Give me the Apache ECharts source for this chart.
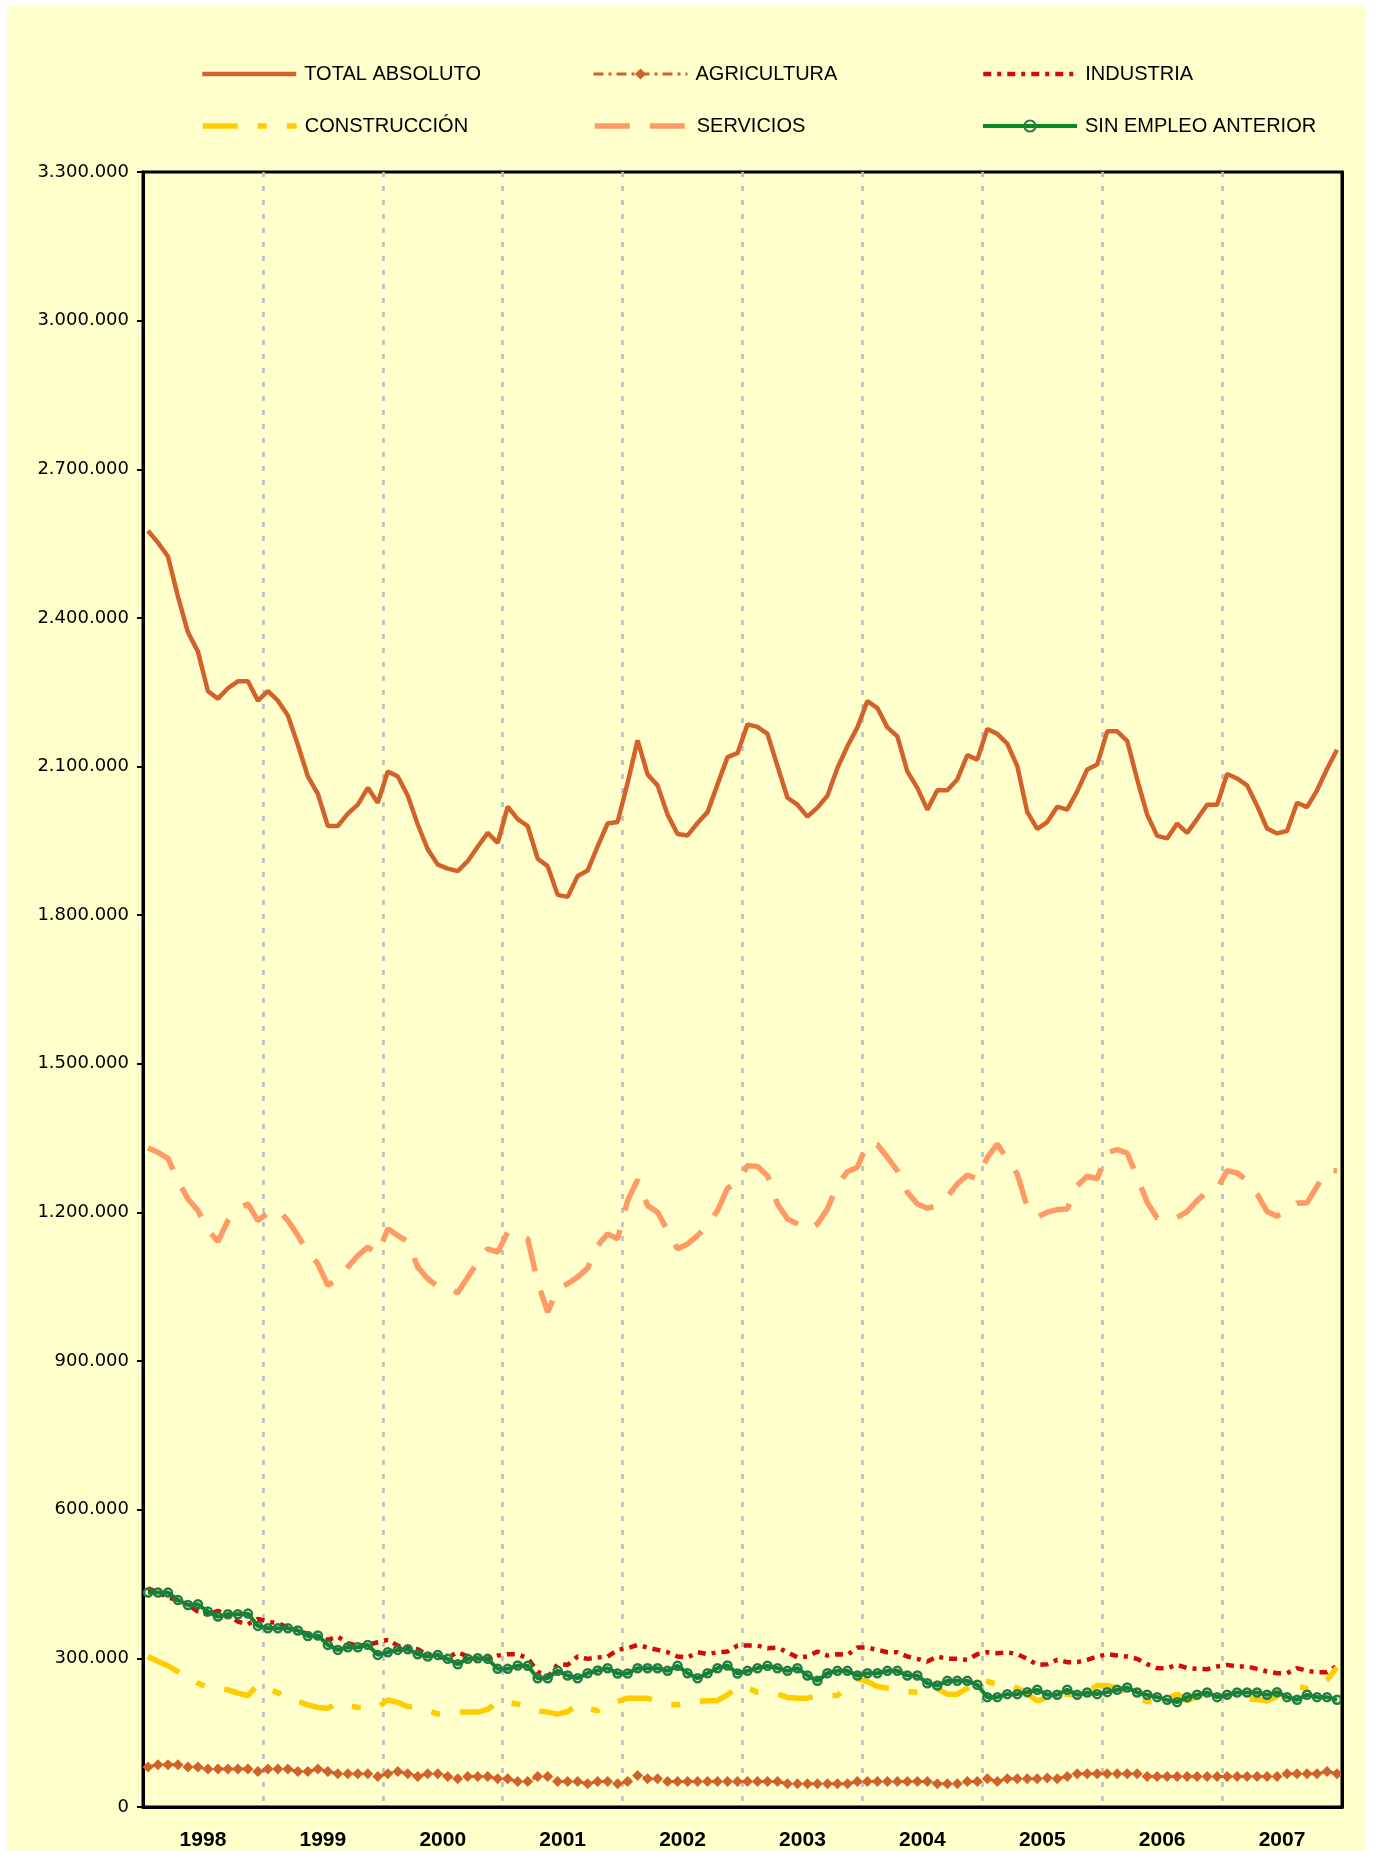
<!DOCTYPE html>
<html>
<head>
<meta charset="utf-8">
<script src="https://cdn.jsdelivr.net/npm/echarts@6/dist/echarts.min.js"></script>
<style>
  html, body { margin: 0; padding: 0; background: #ffffff; }
  #wrap { position: relative; width: 1375px; height: 1851px; overflow: hidden; }
  #bg { position: absolute; left: 7px; top: 5px; width: 1359px; height: 1846px; background: #FFFFCC; }
  #chart { position: absolute; left: 0; top: 0; width: 1375px; height: 1851px; }
</style>
</head>
<body>
<div id="wrap"><div id="bg"></div><div id="chart"></div></div>
<script>
// ---- DATA ----
const years = ['1998','1999','2000','2001','2002','2003','2004','2005','2006','2007'];
const monthNames = ['01','02','03','04','05','06','07','08','09','10','11','12'];
const seriesNames = ['TOTAL ABSOLUTO','AGRICULTURA','INDUSTRIA','CONSTRUCCIÓN','SERVICIOS','SIN EMPLEO ANTERIOR'];
const yTicks = { min: 0, max: 3300000, interval: 300000 };

const totalAbsoluto = [
  2576000,2552000,2524000,2443000,2371000,2332000,2252000,2237000,2258000,2272000,2272000,2233000,
  2252000,2233000,2203000,2144000,2080000,2045000,1980000,1980000,2005000,2023000,2057000,2027000,
  2090000,2080000,2041000,1983000,1933000,1902000,1894000,1889000,1909000,1938000,1966000,1946000,
  2019000,1994000,1980000,1914000,1899000,1841000,1837000,1879000,1890000,1939000,1985000,1988000,
  2067000,2153000,2084000,2062000,2003000,1964000,1961000,1986000,2008000,2064000,2119000,2127000,
  2185000,2180000,2166000,2101000,2037000,2023000,1999000,2017000,2041000,2097000,2141000,2179000,
  2232000,2218000,2179000,2161000,2090000,2057000,2013000,2052000,2052000,2074000,2123000,2114000,
  2176000,2166000,2146000,2101000,2008000,1974000,1988000,2019000,2013000,2050000,2094000,2104000,
  2171000,2171000,2152000,2074000,2003000,1960000,1955000,1985000,1966000,1994000,2023000,2023000,
  2085000,2076000,2062000,2021000,1975000,1965000,1970000,2027000,2018000,2052000,2095000,2134000
];
const agricultura = [
  80600,85300,85300,85300,80600,80600,76600,76600,76600,76600,76600,71900,
  76600,76600,76600,71900,71900,76600,71900,67200,67200,67200,67200,61800,
  67200,71900,67200,61800,67200,67200,61800,57100,61800,61800,61800,57100,
  57100,51700,51700,61800,61800,51700,51700,51700,47000,51700,51700,47000,
  51700,63800,57100,57100,51700,51700,51700,51700,51700,51700,51700,51700,
  51700,51700,51700,51700,47000,47000,47000,47000,47000,47000,47000,51700,
  51700,51700,51700,51700,51700,51700,51700,47000,47000,47000,51700,51700,
  57100,51700,57100,57100,57100,57100,58500,57100,61800,67200,67200,67200,
  67200,67200,67200,67200,61800,61800,61800,61800,61800,61800,61800,61800,
  61800,61800,61800,61800,61800,61800,67200,67200,67200,67200,71900,67200
];
const industria = [
  441400,433300,422600,417900,407800,394400,387700,395700,387700,374200,368800,379600,
  374200,370900,362100,357400,348700,344000,337300,344000,330500,325800,327200,332600,
  337300,325800,320500,318500,305700,301700,301700,312400,303700,299000,299000,305700,
  308400,308400,300300,273400,261400,288200,286900,303700,299000,301700,303700,317100,
  320500,327200,321800,317100,312400,303700,301700,312400,308400,312400,313700,325800,
  325800,325800,320500,321800,312400,301700,303700,313700,305700,308400,307000,321800,
  321800,317100,312400,312400,303700,299000,293600,303700,299000,299000,297000,308400,
  312400,310400,312400,308400,299000,286900,288200,297000,292300,292300,297000,303700,
  308400,305700,303700,299000,288200,280200,280200,286900,280200,278800,278100,283500,
  286900,283500,283500,278800,273400,270100,270100,280200,274800,272100,272100,284900
];
const construccion = [
  303700,293600,284900,273400,261400,249900,241200,238500,236500,229800,225100,246600,
  239900,230500,219700,213000,206300,200900,199500,209600,204900,200900,200900,200900,
  216300,210900,202900,200900,194200,187500,191500,191500,191500,191500,196900,213000,
  211600,207600,199500,194200,191500,187500,192800,206300,199500,194200,202200,213000,
  219700,219700,219700,213000,207600,206300,211600,213000,214300,215000,226400,243200,
  239900,231800,229800,227800,221100,219700,219700,224400,225100,225100,243200,258700,
  253300,243200,239900,238500,233100,231800,233100,238500,227800,227800,239900,256600,
  253300,247900,247900,239900,227800,214300,220000,225000,227800,226400,231800,245200,
  245200,239900,229800,218400,213000,213000,218400,227800,214300,223100,231800,225100,
  224400,221100,218400,217000,214300,223100,239900,245200,238500,242500,256600,281500
];
const servicios = [
  1330100,1321400,1309300,1264200,1227300,1203800,1165000,1141300,1183600,1207200,1217200,1183600,
  1199100,1205800,1183600,1153400,1119800,1096300,1052700,1066100,1089600,1113100,1129900,1116500,
  1166900,1153400,1141300,1089600,1066100,1050600,1049900,1037900,1069500,1099700,1126600,1119800,
  1160200,1152100,1147000,1059400,999000,1045900,1056000,1069500,1087600,1133200,1156800,1146700,
  1223900,1266200,1213800,1200500,1163400,1126600,1136600,1153400,1173500,1203800,1248900,1261000,
  1294400,1293000,1274300,1217200,1187000,1177000,1164800,1177000,1207200,1255500,1282300,1291200,
  1340200,1336800,1311300,1284300,1240800,1217200,1208600,1213800,1232000,1257600,1275700,1267600,
  1311300,1338100,1307900,1277700,1210600,1190500,1200500,1205800,1207200,1254100,1273000,1268000,
  1321400,1326800,1320000,1271000,1220600,1189000,1187000,1190000,1201800,1223900,1242100,1247500,
  1284300,1279700,1264200,1237400,1201800,1192500,1203800,1219300,1219300,1252900,1284300,1284300
];
const sinEmpleoAnterior = [
  432700,432700,432700,417900,407800,409100,394400,384300,389000,389000,390300,365500,
  360800,360800,360800,356100,345300,346000,327200,317100,322500,322500,327200,307000,
  312400,317100,318500,308400,303700,307000,299000,288200,299000,300300,299000,278800,
  278800,285500,284900,260000,260000,274800,265400,260000,270100,275500,280200,269400,
  269400,280200,280200,280200,274800,284900,270100,260000,270100,280200,285500,269400,
  274800,280200,284900,280200,274800,280200,265400,254600,270100,274800,274800,265400,
  270100,270100,274800,274800,265400,265400,249900,245200,254600,254600,254600,246600,
  221700,221700,227800,227800,231800,236500,226400,226400,236500,226400,231100,227800,
  231800,236500,241200,231100,226400,221700,216300,211600,221700,226400,231100,221700,
  226400,231100,231100,231100,226400,231800,221700,216300,226400,221700,221700,216300
];

// month categories built from years
const monthCategories = [];
years.forEach(y => monthNames.forEach(m => monthCategories.push(y + '-' + m)));

// ---- STYLES ----
const C_TOTAL = '#D3612B';
const C_AGRI = '#D3612B';
const C_IND = '#D20A0A';
const C_CONS = '#FFCC00';
const C_SERV = '#FF9966';
const C_SIN = '#0A8A1E';

const lineStyles = [
  { color: C_TOTAL, width: 4.5, type: 'solid' },
  { color: C_AGRI, width: 3, type: [10, 5, 3, 5] },
  { color: C_IND, width: 4.5, type: [8, 6, 4, 6] },
  { color: C_CONS, width: 5.5, type: [35, 20, 9, 20] },
  { color: C_SERV, width: 5.5, type: [35, 20] },
  { color: C_SIN, width: 4, type: 'solid' }
];
const hasSymbol = [false, true, false, false, false, true];

function fmt(v) {
  return String(v).replace(/\B(?=(\d{3})+(?!\d))/g, '.');
}

const chart = echarts.init(document.getElementById('chart'), null, { renderer: 'canvas' });

const legendPos = [
  { left: 195, top: 59 }, { left: 587, top: 59 }, { left: 976, top: 59 },
  { left: 195, top: 111 }, { left: 587, top: 111 }, { left: 976, top: 111 }
];

const legends = seriesNames.map((n, i) => {
  const lg = {
    orient: 'horizontal',
    itemWidth: 94,
    itemHeight: 14,
    selectedMode: false,
    left: legendPos[i].left,
    top: legendPos[i].top,
    data: [n],
    lineStyle: { color: lineStyles[i].color, width: lineStyles[i].width, type: lineStyles[i].type },
    textStyle: { fontFamily: 'Liberation Sans, Arial, sans-serif', fontSize: 20, color: '#000', padding: [0, 0, 0, 3] }
  };
  if (!hasSymbol[i]) lg.itemStyle = { opacity: 0 };
  return lg;
});

const option = {
  animation: false,
  backgroundColor: 'transparent',
  legend: legends,
  grid: {
    left: 143, right: 33, top: 172, bottom: 42,
    show: true, backgroundColor: '#FFFFCC', borderColor: '#000', borderWidth: 3
  },
  xAxis: [
    {
      type: 'category', data: monthCategories, boundaryGap: true, position: 'top',
      show: false
    },
    {
      type: 'category', data: years, boundaryGap: true, position: 'bottom',
      axisLine: { show: true, lineStyle: { color: '#000', width: 3 } },
      axisTick: { show: false },
      axisLabel: { margin: 23, fontFamily: 'Liberation Sans, Arial, sans-serif', fontSize: 21, fontWeight: 'bold', color: '#000' },
      splitLine: {
        show: true,
        interval: function (idx) { return idx > 0 && idx < years.length; },
        lineStyle: { color: '#BBBBC4', width: 2.5, type: [5, 9] }
      }
    }
  ],
  yAxis: [
    {
      type: 'value', min: yTicks.min, max: yTicks.max, interval: yTicks.interval,
      axisLine: { show: true, lineStyle: { color: '#000', width: 3 } },
      axisTick: { show: true, length: 6, lineStyle: { color: '#000', width: 2 } },
      axisLabel: { margin: 14, fontFamily: 'DejaVu Sans, sans-serif', fontSize: 18, color: '#000', formatter: fmt },
      splitLine: { show: false }
    },
    {
      type: 'value', position: 'right', min: yTicks.min, max: yTicks.max, interval: yTicks.interval,
      axisLine: { show: true, lineStyle: { color: '#000', width: 3 } },
      axisTick: { show: false }, axisLabel: { show: false }, splitLine: { show: false }, z: 10
    }
  ],
  series: [
    {
      name: seriesNames[0], type: 'line', xAxisIndex: 0, data: totalAbsoluto,
      symbol: 'none', lineStyle: lineStyles[0], itemStyle: { color: C_TOTAL }
    },
    {
      name: seriesNames[1], type: 'line', xAxisIndex: 0, data: agricultura,
      symbol: 'diamond', symbolSize: 11, showAllSymbol: true,
      lineStyle: lineStyles[1], itemStyle: { color: C_AGRI }
    },
    {
      name: seriesNames[2], type: 'line', xAxisIndex: 0, data: industria,
      symbol: 'none', lineStyle: lineStyles[2], itemStyle: { color: C_IND }
    },
    {
      name: seriesNames[3], type: 'line', xAxisIndex: 0, data: construccion,
      symbol: 'none', lineStyle: lineStyles[3], itemStyle: { color: C_CONS }
    },
    {
      name: seriesNames[4], type: 'line', xAxisIndex: 0, data: servicios,
      symbol: 'none', lineStyle: lineStyles[4], itemStyle: { color: C_SERV }
    },
    {
      name: seriesNames[5], type: 'line', xAxisIndex: 0, data: sinEmpleoAnterior,
      symbol: 'circle', symbolSize: 8, showAllSymbol: true,
      lineStyle: lineStyles[5],
      itemStyle: { color: 'rgba(0,0,0,0)', borderColor: '#247A4C', borderWidth: 2.5 }
    }
  ]
};
chart.setOption(option);
</script>
</body>
</html>
